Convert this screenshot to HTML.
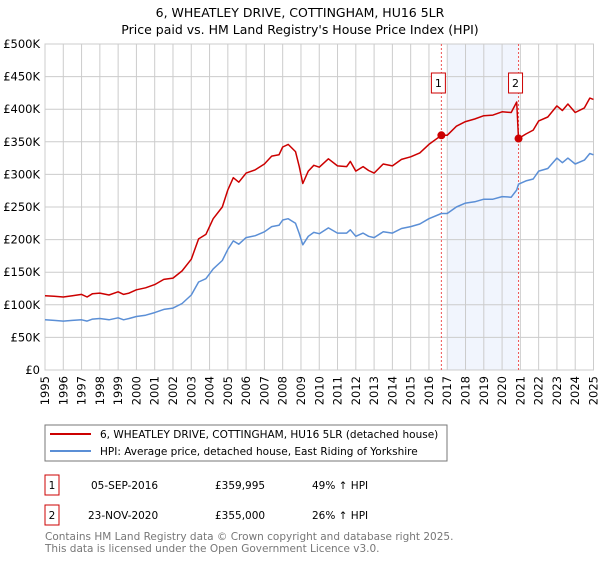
<!DOCTYPE html>
<html><head><meta charset="utf-8"><style>
body{margin:0;background:#fff;font-family:"Liberation Sans","DejaVu Sans",sans-serif;}
svg text{font-family:"DejaVu Sans","Liberation Sans",sans-serif;}
</style></head><body>
<svg id="c" width="600" height="560" xmlns="http://www.w3.org/2000/svg">
<text x="300" y="17" text-anchor="middle" font-size="12.5" fill="#000">6, WHEATLEY DRIVE, COTTINGHAM, HU16 5LR</text>
<text x="300" y="34" text-anchor="middle" font-size="12.5" fill="#000">Price paid vs. HM Land Registry's House Price Index (HPI)</text>
<g id="plot"></g>
<rect x="45" y="425" width="402" height="36" fill="#fff" stroke="#777"/>
<line x1="50" y1="434" x2="91" y2="434" stroke="#cc0000" stroke-width="2"/>
<text x="100" y="438" font-size="10.5">6, WHEATLEY DRIVE, COTTINGHAM, HU16 5LR (detached house)</text>
<line x1="50" y1="451" x2="91" y2="451" stroke="#5b8fd6" stroke-width="2"/>
<text x="100" y="455" font-size="10.5">HPI: Average price, detached house, East Riding of Yorkshire</text>
<g font-size="10.5">
<rect x="45" y="475" width="14" height="20" fill="#fff" stroke="#cc0000"/>
<text x="52" y="489" text-anchor="middle">1</text>
<text x="91" y="489">05-SEP-2016</text><text x="215" y="489">£359,995</text><text x="312" y="489">49% ↑ HPI</text>
<rect x="45" y="505" width="14" height="20" fill="#fff" stroke="#cc0000"/>
<text x="52" y="519" text-anchor="middle">2</text>
<text x="88" y="519">23-NOV-2020</text><text x="215" y="519">£355,000</text><text x="312" y="519">26% ↑ HPI</text>
</g>
<text x="45" y="540" font-size="10.5" fill="#777">Contains HM Land Registry data © Crown copyright and database right 2025.</text>
<text x="45" y="552" font-size="10.5" fill="#777">This data is licensed under the Open Government Licence v3.0.</text>
</svg>
<script>
const times=[1995.0,1995.5,1996.0,1996.5,1997.0,1997.3,1997.6,1998.0,1998.5,1999.0,1999.3,1999.6,2000.0,2000.5,2001.0,2001.5,2002.0,2002.5,2003.0,2003.4,2003.8,2004.2,2004.7,2005.0,2005.3,2005.6,2006.0,2006.5,2007.0,2007.4,2007.8,2008.0,2008.3,2008.7,2008.9,2009.1,2009.4,2009.7,2010.0,2010.5,2011.0,2011.5,2011.7,2012.0,2012.4,2012.7,2013.0,2013.5,2014.0,2014.5,2015.0,2015.5,2016.0,2016.68,2017.0,2017.5,2018.0,2018.5,2019.0,2019.5,2020.0,2020.5,2020.8,2020.9,2021.3,2021.7,2022.0,2022.5,2023.0,2023.3,2023.6,2024.0,2024.5,2024.8,2025.0];
const hpiValues=[77,76,75,76,77,75,78,79,77,80,77,79,82,84,88,93,95,102,115,135,140,155,168,185,198,193,203,206,212,220,222,230,232,225,210,192,205,211,209,218,210,210,215,205,210,205,203,212,210,217,220,224,232,240,240,250,256,258,262,262,266,265,276,285,290,293,305,309,325,318,325,316,322,332,330];
const propertyValues=[114,113,112,114,116,112,117,118,115,120,116,118,123,126,131,139,141,152,170,201,208,232,250,276,295,288,302,307,316,328,330,342,346,335,313,286,305,314,311,324,313,312,320,305,312,306,302,316,313,323,327,333,346,360,360,374,381,385,390,391,396,395,411,355,362,368,382,388,405,398,408,395,402,417,415];
const saleTimes=[2016.68,2020.9];
const salePrices=[359.995,355];
const saleLabels=["1","2"];
const yTicks=[0,50,100,150,200,250,300,350,400,450,500];
const yTickLabels=["£0","£50K","£100K","£150K","£200K","£250K","£300K","£350K","£400K","£450K","£500K"];
const xTicks=[1995,1996,1997,1998,1999,2000,2001,2002,2003,2004,2005,2006,2007,2008,2009,2010,2011,2012,2013,2014,2015,2016,2017,2018,2019,2020,2021,2022,2023,2024,2025];
const shadeRange=[2017.0,2020.9];

const X0=45,X1=593.5,Y0=370,Y1=44;
const xs=t=>X0+(t-1995)/30*(X1-X0);
const ys=v=>Y0-v/500*(Y0-Y1);
const NS="http://www.w3.org/2000/svg";
const g=document.getElementById('plot');
function mk(tag,attrs){const e=document.createElementNS(NS,tag);for(const k in attrs)e.setAttribute(k,attrs[k]);g.appendChild(e);return e;}
let e;
e=mk('rect',{x:xs(shadeRange[0]),y:Y1,width:xs(shadeRange[1])-xs(shadeRange[0]),height:Y0-Y1,fill:'#eef3fc',opacity:0.8});


yTicks.forEach((v,i)=>{
 e=mk('line',{x1:X0,x2:X1,y1:ys(v),y2:ys(v),stroke:'#cccccc','stroke-width':1});
 
 
 e=mk('text',{x:40,y:ys(v)+4,'text-anchor':'end','font-size':'11.5',fill:'#000'});
 e.textContent=yTickLabels[i];
 
 
});
xTicks.forEach(t=>{
 e=mk('line',{x1:xs(t),x2:xs(t),y1:Y1,y2:Y0,stroke:'#cccccc','stroke-width':1});
 
 
 e=mk('text',{x:0,y:0,'text-anchor':'end','font-size':'11.5',fill:'#000',transform:`translate(${xs(t)+4},${Y0+6}) rotate(-90)`});
 e.textContent=t;
 
 
});
e=mk('rect',{x:X0,y:Y1,width:X1-X0,height:Y0-Y1,fill:'none',stroke:'#cccccc'});


saleTimes.forEach((t,i)=>{
 e=mk('line',{x1:xs(t),x2:xs(t),y1:Y1,y2:Y0,stroke:'#ee5555','stroke-width':1,'stroke-dasharray':'2,2'});
 
 
});
function path(vals,color,name){
 const d=times.map((t,i)=>(i?'L':'M')+xs(t).toFixed(1)+','+ys(vals[i]).toFixed(1)).join(' ');
 const p=mk('path',{d:d,fill:'none',stroke:color,'stroke-width':1.5,'stroke-linejoin':'round'});
 
 
}
path(hpiValues,'#5b8fd6','hpi-line');
path(propertyValues,'#cc0000','property-price-line');
saleTimes.forEach((t,i)=>{
 e=mk('circle',{cx:xs(t),cy:ys(salePrices[i]),r:4,fill:'#cc0000'});
 
 
 e=mk('rect',{x:xs(t)-10,y:73,width:14,height:20,fill:'#fff',stroke:'#cc0000'});
 
 
 e=mk('text',{x:xs(t)-3,y:87,'text-anchor':'middle','font-size':'11',fill:'#000'});
 e.textContent=saleLabels[i];
 
 
});
</script>
</body></html>
